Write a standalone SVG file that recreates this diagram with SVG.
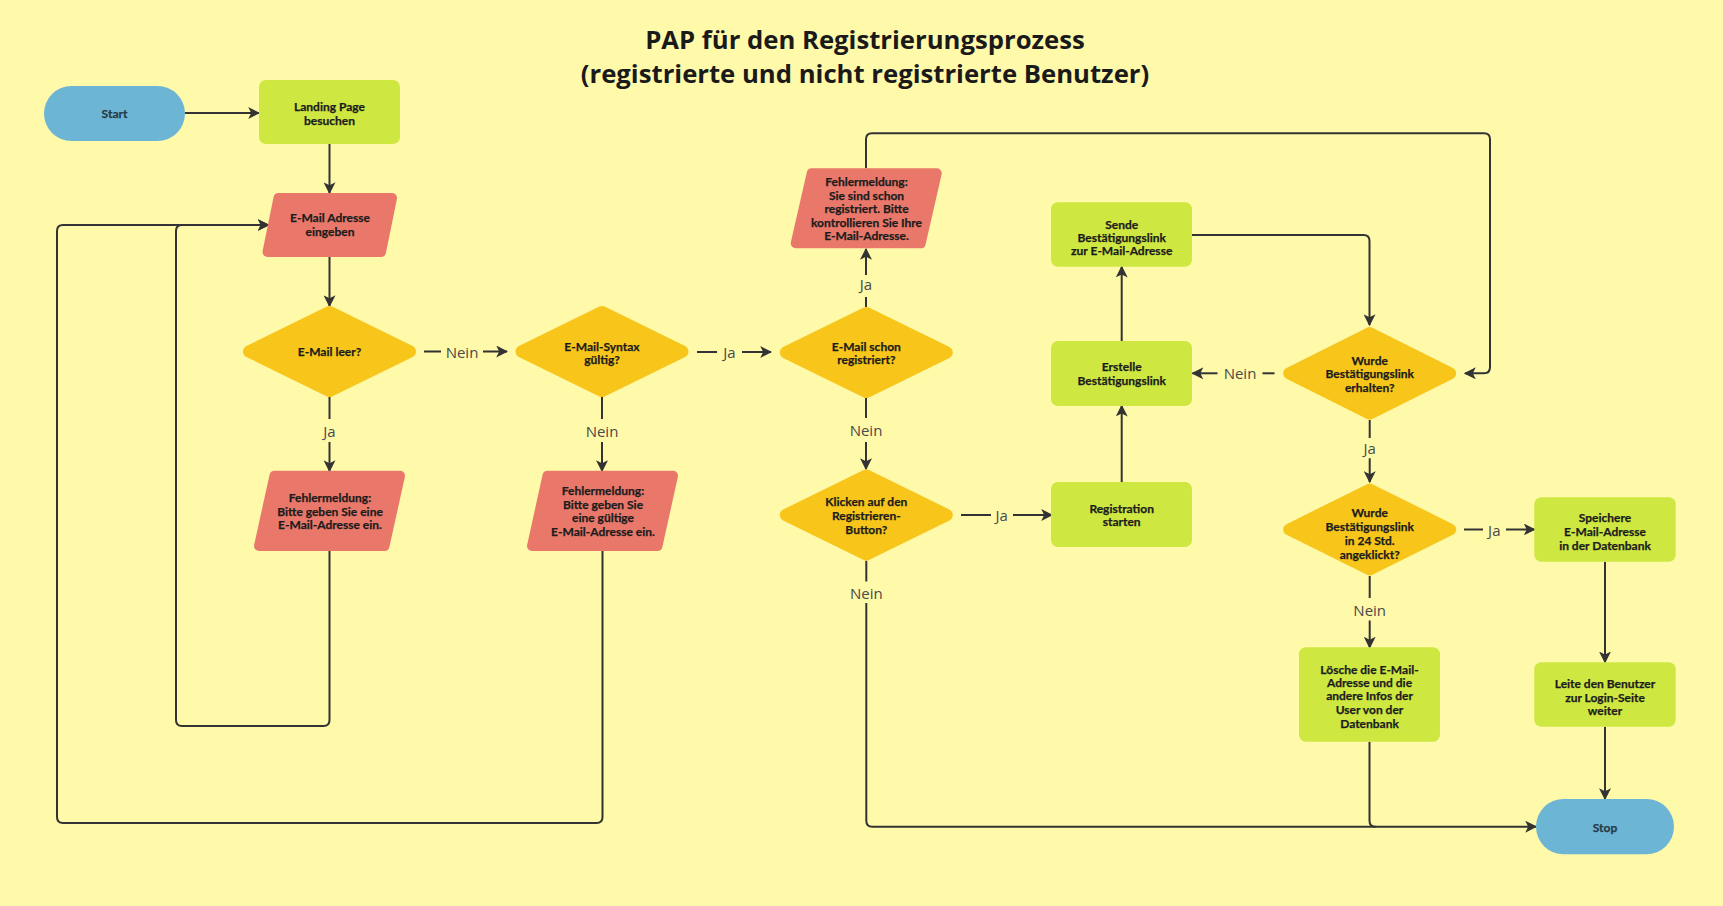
<svg xmlns="http://www.w3.org/2000/svg" width="1723" height="906" viewBox="0 0 1723 906">
<defs>
<marker id="arr" markerUnits="userSpaceOnUse" markerWidth="12" markerHeight="12" viewBox="0 0 10 10" refX="9" refY="5" orient="auto">
<path d="M0,0 L10,5 L0,10 L2.5,5 Z" fill="#333"/>
</marker>
<style>
.bg{fill:#FFF9AA}
.term{fill:#6DB5D5}
.proc{fill:#CEE741}
.io{fill:#E9786A;stroke:#E9786A;stroke-width:10;stroke-linejoin:round}
.dec{fill:#F8C61A;stroke:#F8C61A;stroke-width:12;stroke-linejoin:round}
.t{font-family:Lato,"Liberation Sans",sans-serif;font-weight:700;font-size:12px;fill:#1c1c1c;stroke:#1c1c1c;stroke-width:0.25;text-anchor:middle;dominant-baseline:central}
.tt{font-family:Lato,"Liberation Sans",sans-serif;font-weight:700;font-size:12px;fill:#263a47;stroke:#263a47;stroke-width:0.25;text-anchor:middle;dominant-baseline:central}
.lbl{font-family:"Open Sans","Noto Sans",sans-serif;font-size:15px;fill:#4a4a4a;text-anchor:middle;dominant-baseline:central}
.title{font-family:"Open Sans","Noto Sans",sans-serif;font-weight:700;font-size:25.7px;fill:#1a1a1a;text-anchor:middle}
.c{fill:none;stroke:#333;stroke-width:2;stroke-linejoin:round}
.ca{fill:none;stroke:#333;stroke-width:2;stroke-linejoin:round;marker-end:url(#arr)}
</style>
</defs>
<rect class="bg" x="0" y="0" width="1723" height="906"/>
<g id="title">
<text class="title" x="865" y="49">PAP für den Registrierungsprozess</text>
<text class="title" x="865" y="83">(registrierte und nicht registrierte Benutzer)</text>
</g>
<g id="connectors">
<path class="ca" d="M185,113 H259"/>
<path class="ca" d="M329.5,144 V193"/>
<path class="ca" d="M329.5,257 V306"/>
<path class="c" d="M424,351.5 H441"/>
<path class="ca" d="M483,351.5 H507"/>
<path class="c" d="M329.5,397 V419"/>
<path class="ca" d="M329.5,442 V471"/>
<path class="c" d="M602,397 V419"/>
<path class="ca" d="M602,442 V471"/>
<path class="c" d="M697,352 H717"/>
<path class="ca" d="M742,352 H771"/>
<path class="c" d="M866,307 V297"/>
<path class="ca" d="M866,275 V249"/>
<path class="c" d="M866,398 V418"/>
<path class="ca" d="M866,442 V469"/>
<path class="ca" d="M866,168.3 V139.3 Q866,133.3 872,133.3 H1484 Q1490,133.3 1490,139.3 V367.3 Q1490,373.3 1484,373.3 H1465"/>
<path class="c" d="M961,515 H991"/>
<path class="ca" d="M1013,515 H1052"/>
<path class="ca" d="M1121.7,482 V405.7"/>
<path class="ca" d="M1121.7,341 V266.7"/>
<path class="ca" d="M1192,235 H1363.5 Q1369.5,235 1369.5,241 V325"/>
<path class="c" d="M1274.5,373.3 H1262.5"/>
<path class="ca" d="M1217.5,373.3 H1192.5"/>
<path class="c" d="M1369.7,420 V438"/>
<path class="ca" d="M1369.7,458.3 V482"/>
<path class="c" d="M1464,529.5 H1483"/>
<path class="ca" d="M1506,529.5 H1534.5"/>
<path class="c" d="M1369.7,576 V598"/>
<path class="ca" d="M1369.7,620.5 V647.5"/>
<path class="ca" d="M1605,561.7 V662.3"/>
<path class="ca" d="M1605,726.7 V799"/>
<path class="c" d="M866.3,560.7 V581.5"/>
<path class="ca" d="M866.3,603 V820.7 Q866.3,826.7 872.3,826.7 H1536"/>
<path class="c" d="M1369.5,741.7 V820.7 Q1369.5,826.7 1375.5,826.7"/>
<path class="ca" d="M329.5,551 V720 Q329.5,726 323.5,726 H182 Q176,726 176,720 V231 Q176,225 182,225 H268.5"/>
<path class="ca" d="M602.5,551 V817 Q602.5,823 596.5,823 H63 Q57,823 57,817 V231 Q57,225 63,225 H268.5"/>
<text class="lbl" x="462" y="351.5">Nein</text>
<text class="lbl" x="329.5" y="431">Ja</text>
<text class="lbl" x="602" y="431">Nein</text>
<text class="lbl" x="729.5" y="352">Ja</text>
<text class="lbl" x="866" y="284">Ja</text>
<text class="lbl" x="866" y="430">Nein</text>
<text class="lbl" x="1001.7" y="515">Ja</text>
<text class="lbl" x="1240" y="373.3">Nein</text>
<text class="lbl" x="1369.7" y="448">Ja</text>
<text class="lbl" x="1494.3" y="529.5">Ja</text>
<text class="lbl" x="1369.7" y="609.5">Nein</text>
<text class="lbl" x="866.3" y="592.5">Nein</text>
</g>
<g id="start">
<rect class="term" x="44" y="86" width="141" height="55" rx="27.5"/>
<text class="tt" x="114.5" y="113.5">Start</text>
</g>
<g id="landing">
<rect class="proc" x="259" y="80" width="141" height="64" rx="7"/>
<text class="t" x="329.5" y="106">Landing Page</text>
<text class="t" x="329.5" y="120">besuchen</text>
</g>
<g id="email-input">
<polygon class="io" points="278.5,198 392,198 381,252 267.5,252"/>
<text class="t" x="330" y="217.7">E-Mail Adresse</text>
<text class="t" x="330" y="231.7">eingeben</text>
</g>
<g id="email-leer">
<polygon class="dec" points="329.5,312 410,351.5 329.5,391 249,351.5"/>
<text class="t" x="329.5" y="351.5">E-Mail leer?</text>
</g>
<g id="syntax">
<polygon class="dec" points="602,312 682.5,351.5 602,391 521.5,351.5"/>
<text class="t" x="602" y="346">E-Mail-Syntax</text>
<text class="t" x="602" y="359.3">gültig?</text>
</g>
<g id="err-empty">
<polygon class="io" points="274.5,475.7 400,475.7 384.5,546 259,546"/>
<text class="t" x="330" y="497.5">Fehlermeldung:</text>
<text class="t" x="330" y="511">Bitte geben Sie eine</text>
<text class="t" x="330" y="524.5">E-Mail-Adresse ein.</text>
</g>
<g id="err-syntax">
<polygon class="io" points="547.5,475.7 673,475.7 657.5,546 532,546"/>
<text class="t" x="603" y="490.5">Fehlermeldung:</text>
<text class="t" x="603" y="504">Bitte geben Sie</text>
<text class="t" x="603" y="517.5">eine gültige</text>
<text class="t" x="603" y="531">E-Mail-Adresse ein.</text>
</g>
<g id="err-registered">
<polygon class="io" points="811.7,173.3 936.7,173.3 920.7,243.3 795.7,243.3"/>
<text class="t" x="866.5" y="181.5">Fehlermeldung:</text>
<text class="t" x="866.5" y="195">Sie sind schon</text>
<text class="t" x="866.5" y="208.5">registriert. Bitte</text>
<text class="t" x="866.5" y="222">kontrollieren Sie Ihre</text>
<text class="t" x="866.5" y="235.5">E-Mail-Adresse.</text>
</g>
<g id="schon-registriert">
<polygon class="dec" points="866.3,313 946.8,352.5 866.3,392 785.8,352.5"/>
<text class="t" x="866.3" y="346">E-Mail schon</text>
<text class="t" x="866.3" y="359.3">registriert?</text>
</g>
<g id="klicken">
<polygon class="dec" points="866.3,475.5 946.8,515 866.3,554.5 785.8,515"/>
<text class="t" x="866.3" y="501">Klicken auf den</text>
<text class="t" x="866.3" y="515">Registrieren-</text>
<text class="t" x="866.3" y="529">Button?</text>
</g>
<g id="registration">
<rect class="proc" x="1051" y="482" width="141" height="65" rx="7"/>
<text class="t" x="1121.7" y="508.3">Registration</text>
<text class="t" x="1121.7" y="521">starten</text>
</g>
<g id="erstelle">
<rect class="proc" x="1051" y="341" width="141" height="65" rx="7"/>
<text class="t" x="1121.7" y="366.7">Erstelle</text>
<text class="t" x="1121.7" y="380.7">Bestätigungslink</text>
</g>
<g id="sende">
<rect class="proc" x="1051" y="202.3" width="141" height="64.4" rx="7"/>
<text class="t" x="1121.7" y="224">Sende</text>
<text class="t" x="1121.7" y="237.3">Bestätigungslink</text>
<text class="t" x="1121.7" y="250.7">zur E-Mail-Adresse</text>
</g>
<g id="erhalten">
<polygon class="dec" points="1369.7,333 1450.2,373.3 1369.7,413.6 1289.2,373.3"/>
<text class="t" x="1369.7" y="360">Wurde</text>
<text class="t" x="1369.7" y="373.5">Bestätigungslink</text>
<text class="t" x="1369.7" y="387">erhalten?</text>
</g>
<g id="angeklickt">
<polygon class="dec" points="1369.7,489.5 1450.2,529.5 1369.7,569.5 1289.2,529.5"/>
<text class="t" x="1369.7" y="512.7">Wurde</text>
<text class="t" x="1369.7" y="526.5">Bestätigungslink</text>
<text class="t" x="1369.7" y="540">in 24 Std.</text>
<text class="t" x="1369.7" y="554">angeklickt?</text>
</g>
<g id="speichere">
<rect class="proc" x="1534.3" y="497.3" width="141.4" height="64.4" rx="7"/>
<text class="t" x="1605" y="517.7">Speichere</text>
<text class="t" x="1605" y="531.7">E-Mail-Adresse</text>
<text class="t" x="1605" y="545.7">in der Datenbank</text>
</g>
<g id="leite">
<rect class="proc" x="1534.3" y="662.3" width="141.4" height="64.4" rx="7"/>
<text class="t" x="1605" y="683.5">Leite den Benutzer</text>
<text class="t" x="1605" y="697">zur Login-Seite</text>
<text class="t" x="1605" y="710.5">weiter</text>
</g>
<g id="loesche">
<rect class="proc" x="1299" y="647.3" width="141" height="94.4" rx="7"/>
<text class="t" x="1369.5" y="669">Lösche die E-Mail-</text>
<text class="t" x="1369.5" y="682.3">Adresse und die</text>
<text class="t" x="1369.5" y="695.7">andere Infos der</text>
<text class="t" x="1369.5" y="709.7">User von der</text>
<text class="t" x="1369.5" y="723">Datenbank</text>
</g>
<g id="stop">
<rect class="term" x="1536" y="799" width="138" height="55.3" rx="27.6"/>
<text class="tt" x="1605" y="827">Stop</text>
</g>
</svg>
